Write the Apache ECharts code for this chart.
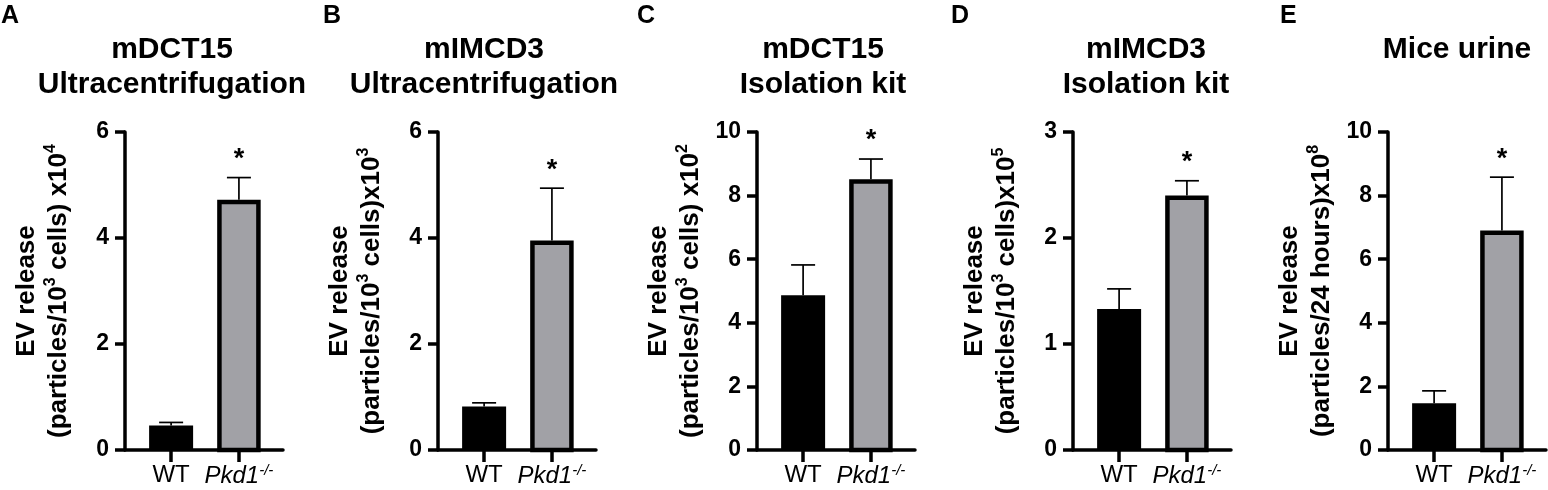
<!DOCTYPE html>
<html>
<head>
<meta charset="utf-8">
<script src="https://cdn.jsdelivr.net/npm/echarts@6/dist/echarts.min.js"></script>
<style>
html,body{margin:0;padding:0;background:#fff;}
#main{width:1548px;height:490px;}
</style>
</head>
<body>
<div id="main"></div>
<script>
// data (mean + SEM, bars per panel)
var categories = ['WT', 'Pkd1-/-'];
var panelLetters = ['A', 'B', 'C', 'D', 'E'];
var panelTitles = ['mDCT15\nUltracentrifugation', 'mIMCD3\nUltracentrifugation', 'mDCT15\nIsolation kit', 'mIMCD3\nIsolation kit', 'Mice urine'];
var yUnits = [
    '(particles/10{sup|3} cells) x10{sup|4}',
    '(particles/10{sup|3} cells)x10{sup|3}',
    '(particles/10{sup|3} cells) x10{sup|2}',
    '(particles/10{sup|3} cells)x10{sup|5}',
    '(particles/24 hours)x10{sup|8}'
];
var yMax = [6, 6, 10, 3, 10];
var yStep = [2, 2, 2, 1, 2];
var wtMean = [0.46, 0.82, 4.87, 1.33, 1.47];
var wtSem = [0.06, 0.07, 0.95, 0.19, 0.39];
var koMean = [4.68, 3.91, 8.44, 2.38, 6.83];
var koSem = [0.46, 1.03, 0.71, 0.16, 1.75];
var sigMark = ['*', '*', '*', '*', '*'];

var FONT = '"Liberation Sans", Arial, sans-serif';
var gridLeft = [125, 438, 757, 1073, 1388];
var letterX = [1, 323, 637, 951, 1280];
var titleX = [172, 484, 823, 1146, 1457];

//柱子
function renderBar(params, api){
    var x = api.value(0), v = api.value(1);
    var top = api.coord([x, v]);
    var base = api.coord([x, 0]);
    var isKo = api.value(2) === 1;
    var w = isKo ? 39 : 44;
    return {
        type: 'rect',
        shape: {x: top[0] - w / 2, y: top[1], width: w, height: base[1] - top[1]},
        style: {fill: isKo ? '#a1a1a6' : '#000', stroke: '#000', lineWidth: isKo ? 4.5 : 0}
    };
}

//误差线 + 星号
function renderErr(params, api){
    var x = api.value(0), v = api.value(1), e = api.value(3);
    var isKo = api.value(2) === 1;
    var p0 = api.coord([x, v]);
    var p1 = api.coord([x, v + e]);
    var y0 = isKo ? p0[1] - 2.25 : p0[1];
    var children = [
        {type: 'line', shape: {x1: p0[0], y1: y0, x2: p1[0], y2: p1[1]}, style: {stroke: '#000', lineWidth: 1.7}},
        {type: 'line', shape: {x1: p1[0] - 12, y1: p1[1], x2: p1[0] + 12, y2: p1[1]}, style: {stroke: '#000', lineWidth: 1.7}}
    ];
    var mark = api.value(4);
    if(isKo && mark){
        children.push({
            type: 'text',
            style: {
                text: '*',
                x: p1[0], y: p1[1] - 18,
                align: 'center', verticalAlign: 'middle',
                textAlign: 'center', textVerticalAlign: 'middle',
                font: 'bold 27px ' + FONT, fill: '#000'
            }
        });
    }
    return {type: 'group', children: children};
}

function xLabel(val){
    var name = categories[Math.round(val) - 1] || '';
    if(name.indexOf('-/-') > 0){
        return '{it|' + name.replace('-/-', '') + '}{sup|-/-}';
    }
    return name;
}

var grids = [], xAxes = [], yAxes = [], series = [], graphics = [];
for(var i = 0; i < panelTitles.length; i++){
    grids.push({left: gridLeft[i], top: 132, width: 158, height: 318, containLabel: false, outerBoundsMode: 'none'});
    xAxes.push({
        gridIndex: i, type: 'value', min: 0.32, max: 2.65,
        axisLine: {show: true, onZero: false, lineStyle: {color: '#000', width: 3.5}},
        axisTick: {show: true, customValues: [1, 2], length: 12, lineStyle: {color: '#000', width: 3.5}},
        axisLabel: {
            show: true, customValues: [1, 2], margin: 13, color: '#000',
            fontSize: 24, fontFamily: FONT, formatter: xLabel,
            rich: {
                it: {fontSize: 24, fontStyle: 'italic', fontFamily: FONT, color: '#000', lineHeight: 26},
                sup: {fontSize: 15, fontStyle: 'italic', fontFamily: FONT, color: '#000', verticalAlign: 'top', lineHeight: 14}
            }
        },
        splitLine: {show: false}
    });
    yAxes.push({
        gridIndex: i, type: 'value', min: 0, max: yMax[i], interval: yStep[i],
        axisLine: {show: true, lineStyle: {color: '#000', width: 3.5}},
        axisTick: {show: true, length: 10, lineStyle: {color: '#000', width: 3.5}},
        axisLabel: {color: '#000', fontSize: 23, fontWeight: 'bold', fontFamily: FONT, margin: 16},
        splitLine: {show: false},
        name: 'EV release\n' + yUnits[i],
        nameLocation: 'middle', nameRotate: 90, nameGap: 50,
        nameTextStyle: {
            color: '#000', fontSize: 26, fontWeight: 'bold', fontFamily: FONT, lineHeight: 32,
            rich: {
                sup: {fontSize: 16, fontWeight: 'bold', fontFamily: FONT, color: '#000', verticalAlign: 'top', lineHeight: 15}
            }
        }
    });
    var pts = [[1, wtMean[i], 0, wtSem[i], 0], [2, koMean[i], 1, koSem[i], sigMark[i] ? 1 : 0]];
    series.push({type: 'custom', xAxisIndex: i, yAxisIndex: i, renderItem: renderBar, data: pts, clip: false, silent: true});
    series.push({type: 'custom', xAxisIndex: i, yAxisIndex: i, renderItem: renderErr, data: pts, clip: false, silent: true, z: 3});

    graphics.push({
        type: 'text', x: letterX[i], y: 16,
        style: {text: panelLetters[i], font: 'bold 25px ' + FONT, fill: '#000', textAlign: 'left', textVerticalAlign: 'middle', align: 'left', verticalAlign: 'middle'}
    });
    graphics.push({
        type: 'text', x: titleX[i], y: 32,
        style: {text: panelTitles[i], font: 'bold 30px ' + FONT, lineHeight: 35, fill: '#000', textAlign: 'center', textVerticalAlign: 'top', align: 'center', verticalAlign: 'top'}
    });
}

var myChart = echarts.init(document.getElementById('main'), null, {renderer: 'canvas'});
myChart.setOption({
    backgroundColor: '#fff',
    animation: false,
    grid: grids,
    xAxis: xAxes,
    yAxis: yAxes,
    series: series,
    graphic: graphics
});
</script>
</body>
</html>
